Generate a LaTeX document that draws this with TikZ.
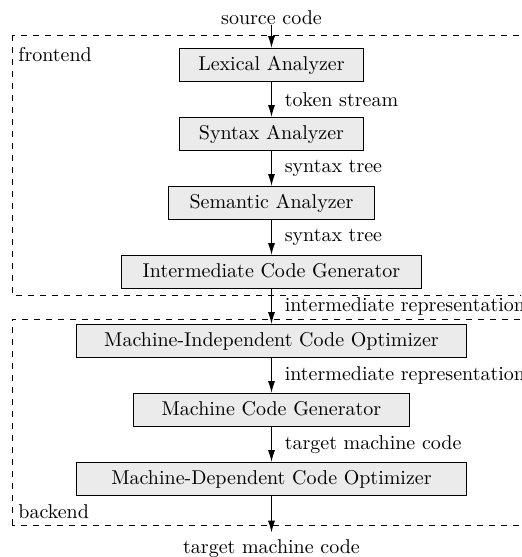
\documentclass[tikz,border=0pt]{standalone}
\usetikzlibrary{positioning, arrows.meta}
\tikzset{
	phase/.style={draw, fill=black!8, minimum height=16.6pt, inner xsep=9.5pt, inner ysep=0pt, text height=1.5ex, text depth=.25ex},
	flow/.style={-{Latex[length=6pt, width=3.6pt]}, semithick},
	flowlabel/.style={right, xshift=3pt}
}
\begin{document}
\begin{tikzpicture}[node distance=17.5pt]
		\path[use as bounding box, clip](-135.75pt, 32.5pt)rectangle(124.75pt, -246pt);
		% phases
		\node[phase, minimum width=92.1pt](lex){Lexical Analyzer};
		\node[phase, minimum width=92.1pt, below=of lex](syn){Syntax Analyzer};
		\node[phase, minimum width=103.1pt, below=of syn](sem){Semantic Analyzer};
		\node[phase, minimum width=149.6pt, below=of sem](icg){Intermediate Code Generator};
		\node[phase, minimum width=195.1pt, below=of icg](mico){Machine-Independent Code Optimizer};
		\node[phase, minimum width=138.1pt, below=of mico](mcg){Machine Code Generator};
		\node[phase, minimum width=195.1pt, below=of mcg](mdco){Machine-Dependent Code Optimizer};
		\node[inner sep=0pt, above=11.5pt of lex](src){source code};
		\node[below=18.3pt of mdco](tgt){target machine code};
		% frontend / backend
		\coordinate(fe)at(-129.75pt, 15pt);
		\coordinate(be)at(-129.75pt, -230pt);
		\draw[dashed](fe)rectangle(140pt, -115pt);
		\draw[dashed](be)rectangle(140pt, -127pt);
		\node[anchor=north west, inner sep=3pt, yshift=-3pt](felabel)at(fe){frontend};
		\node[anchor=south west, inner sep=3pt](belabel)at(be){backend};
		% flow
		\draw[flow](src)--(lex);
		\draw[flow](lex)--(syn)node[midway, flowlabel]{token stream};
		\draw[flow](syn)--(sem)node[midway, flowlabel]{syntax tree};
		\draw[flow](sem)--(icg)node[midway, flowlabel]{syntax tree};
		\draw[flow](icg)--(mico)node[midway, flowlabel]{intermediate representation};
		\draw[flow](mico)--(mcg)node[midway, flowlabel]{intermediate representation};
		\draw[flow](mcg)--(mdco)node[midway, flowlabel]{target machine code};
		\draw[flow](mdco)--(tgt);
	\end{tikzpicture}
\end{document}
